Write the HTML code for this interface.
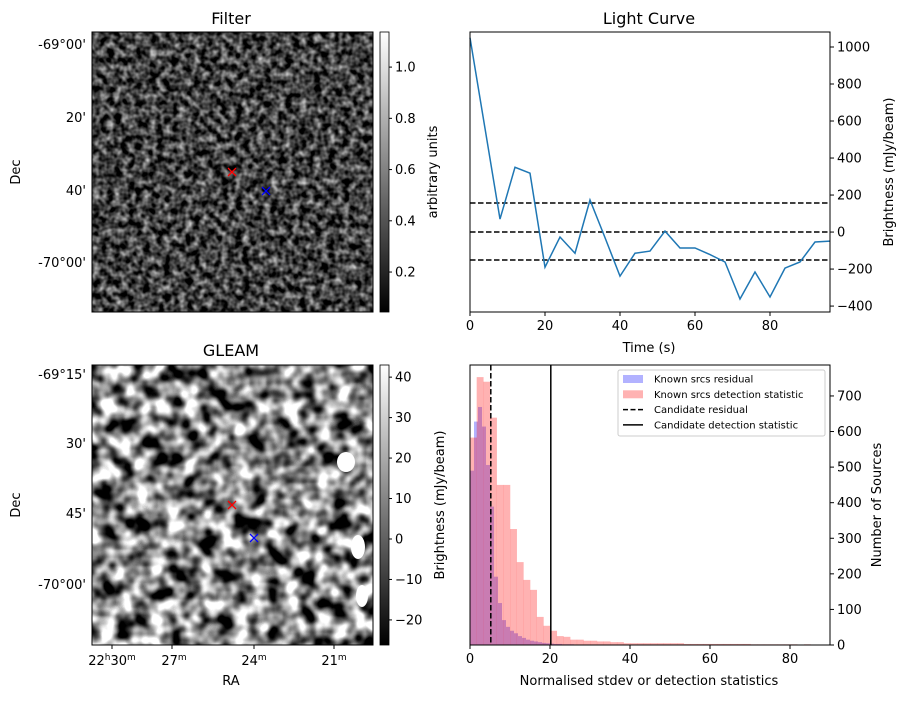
<!DOCTYPE html>
<html><head><meta charset="utf-8">
<style>
body{margin:0;background:#fff;}
svg text{font-family:"DejaVu Sans","Liberation Sans",sans-serif;fill:#000;}
</style></head>
<body>
<svg id="fig" width="907" height="699" viewBox="0 0 907 699" xmlns="http://www.w3.org/2000/svg">
<defs>
<filter id="nFine" x="0" y="0" width="100%" height="100%" color-interpolation-filters="sRGB">
  <feTurbulence type="fractalNoise" baseFrequency="0.14" numOctaves="2" seed="3"/>
  <feColorMatrix type="matrix" values="1 0 0 0 0  1 0 0 0 0  1 0 0 0 0  0 0 0 0 1"/>
  <feComponentTransfer><feFuncR type="linear" slope="1.35" intercept="-0.42"/><feFuncG type="linear" slope="1.35" intercept="-0.42"/><feFuncB type="linear" slope="1.35" intercept="-0.42"/></feComponentTransfer>
</filter>
<filter id="nCoarse" x="0" y="0" width="100%" height="100%" color-interpolation-filters="sRGB">
  <feTurbulence type="fractalNoise" baseFrequency="0.06" numOctaves="2" seed="7"/>
  <feColorMatrix type="matrix" values="1 0 0 0 0  1 0 0 0 0  1 0 0 0 0  0 0 0 0 1"/>
  <feComponentTransfer><feFuncR type="linear" slope="2.6" intercept="-0.78"/><feFuncG type="linear" slope="2.6" intercept="-0.78"/><feFuncB type="linear" slope="2.6" intercept="-0.78"/></feComponentTransfer>
</filter>
<linearGradient id="gray" x1="0" y1="1" x2="0" y2="0"><stop offset="0" stop-color="#000"/><stop offset="1" stop-color="#fff"/></linearGradient>
</defs>

<g>
<text x="231" y="24" font-size="16" text-anchor="middle">Filter</text>
<rect x="92" y="32" width="281" height="280" fill="#444"/>
<rect x="92" y="32" width="281" height="280" filter="url(#nFine)"/>
<rect x="92" y="32" width="281" height="280" fill="none" stroke="#000" stroke-width="1"/>
<g font-size="13" text-anchor="end">
<text x="86" y="49">-69°00'</text>
<text x="86" y="122">20'</text>
<text x="86" y="195">40'</text>
<text x="86" y="267">-70°00'</text>
</g>
<text transform="translate(20,172) rotate(-90)" font-size="13" text-anchor="middle">Dec</text>
<path d="M228 168 l8 8 M236 168 l-8 8" stroke="red" stroke-width="1.3"/>
<path d="M262 187 l8 8 M270 187 l-8 8" stroke="blue" stroke-width="1.3"/>
<rect x="380" y="32" width="9" height="280" fill="url(#gray)" stroke="#000" stroke-width="0.8"/>
<g id="cb1ticks" font-size="13"></g>
<text transform="translate(437,172) rotate(-90)" font-size="13" text-anchor="middle">arbitrary units</text>
</g>

<g>
<text x="231" y="356" font-size="16" text-anchor="middle">GLEAM</text>
<rect x="92" y="365" width="281" height="280" fill="#888"/>
<rect x="92" y="365" width="281" height="280" filter="url(#nCoarse)"/>
<ellipse cx="346" cy="462" rx="9" ry="10" fill="#fff"/>
<ellipse cx="358" cy="547" rx="7" ry="12" fill="#fff"/>
<ellipse cx="362" cy="596" rx="6" ry="11" fill="#fff"/>
<rect x="92" y="365" width="281" height="280" fill="none" stroke="#000" stroke-width="1"/>
<g font-size="13" text-anchor="end">
<text x="86" y="379">-69°15'</text>
<text x="86" y="448">30'</text>
<text x="86" y="518">45'</text>
<text x="86" y="589">-70°00'</text>
</g>
<g font-size="13" text-anchor="middle">
<text x="112" y="665">22<tspan font-size="9" dy="-5">h</tspan><tspan dy="5">30</tspan><tspan font-size="9" dy="-5">m</tspan></text>
<text x="174" y="665">27<tspan font-size="9" dy="-5">m</tspan></text>
<text x="254" y="665">24<tspan font-size="9" dy="-5">m</tspan></text>
<text x="334" y="665">21<tspan font-size="9" dy="-5">m</tspan></text>
</g>
<path d="M112 645v4M172 645v4M254 645v4M334 645v4" stroke="#000"/>
<text x="231" y="685" font-size="13" text-anchor="middle">RA</text>
<text transform="translate(20,505) rotate(-90)" font-size="13" text-anchor="middle">Dec</text>
<path d="M228 501 l8 8 M236 501 l-8 8" stroke="red" stroke-width="1.3"/>
<path d="M250 534 l8 8 M258 534 l-8 8" stroke="blue" stroke-width="1.3"/>
<rect x="380" y="365" width="9" height="280" fill="url(#gray)" stroke="#000" stroke-width="0.8"/>
<g id="cb2ticks" font-size="13"></g>
<text transform="translate(444,505) rotate(-90)" font-size="13" text-anchor="middle">Brightness (mJy/beam)</text>
</g>

<g id="lc"></g>
<g id="hist"></g>
</svg>
<script>
const NS='http://www.w3.org/2000/svg';
function mk(parent,tag,attrs,txt){const e=document.createElementNS(NS,tag);for(const k in attrs)e.setAttribute(k,attrs[k]);if(txt!==undefined)e.textContent=txt;parent.appendChild(e);return e;}

const cb1Ticks=[0.2,0.4,0.6,0.8,1.0];
const cb1Labels=['0.2','0.4','0.6','0.8','1.0'];
const cb2Ticks=[-20,-10,0,10,20,30,40];
const cb2Labels=['−20','−10','0','10','20','30','40'];
(function(){
 const g1=document.getElementById('cb1ticks');
 const y1=v=>312-(v-0.044)/(1.137-0.044)*280;
 cb1Ticks.forEach((v,i)=>{const y=y1(v);
  const t=mk(g1,'line',{x1:389,x2:392,y1:y,y2:y,stroke:'#000'});
  
  
  const l=mk(g1,'text',{x:395,y:y+4.5},cb1Labels[i]);
  
  });
 const g2=document.getElementById('cb2ticks');
 const y2=v=>645-(v+26.2)/(43+26.2)*280;
 cb2Ticks.forEach((v,i)=>{const y=y2(v);
  const t=mk(g2,'line',{x1:389,x2:392,y1:y,y2:y,stroke:'#000'});
  
  
  const l=mk(g2,'text',{x:395,y:y+4.5},cb2Labels[i]);
  
  });
})();

const lcTimes=[0,4,8,12,16,20,24,28,32,36,40,44,48,52,56,60,64,68,72,76,80,84,88,92,96];
const lcFlux=[1050,560,70,350,318,-190,-27,-114,173,-30,-238,-114,-103,5,-86,-86,-122,-162,-362,-216,-351,-195,-162,-54,-49];
const lcThresholds=[157,0,-151];
const lcXTicks=[0,20,40,60,80];
const lcYTicks=[-400,-200,0,200,400,600,800,1000];

(function(){
 const g=document.getElementById('lc');
 const L=470,R=830,T=32,B=312,x0=0,x1=96,y0=-432,y1v=1081;
 const X=v=>L+(v-x0)/(x1-x0)*(R-L), Y=v=>B-(v-y0)/(y1v-y0)*(B-T);
 let t=mk(g,'text',{x:649,y:24,'font-size':16,'text-anchor':'middle'},'Light Curve');
 
 
 lcThresholds.forEach(v=>{const l=mk(g,'line',{x1:L,x2:R,y1:Y(v),y2:Y(v),stroke:'#000','stroke-width':1.5,'stroke-dasharray':'5.5,2.5'});
  
  });
 const d=lcTimes.map((tt,i)=>(i?'L':'M')+X(tt).toFixed(1)+' '+Y(lcFlux[i]).toFixed(1)).join(' ');
 const p=mk(g,'path',{d:d,fill:'none',stroke:'#1f77b4','stroke-width':1.5});
 
 
 const f=mk(g,'rect',{x:L,y:T,width:R-L,height:B-T,fill:'none',stroke:'#000'});
 
 
 lcXTicks.forEach(v=>{mk(g,'line',{x1:X(v),x2:X(v),y1:B,y2:B+4,stroke:'#000'});
  const l=mk(g,'text',{x:X(v),y:B+18,'font-size':13,'text-anchor':'middle'},String(v));
  
  });
 lcYTicks.forEach(v=>{mk(g,'line',{x1:R,x2:R+4,y1:Y(v),y2:Y(v),stroke:'#000'});
  const l=mk(g,'text',{x:R+7,y:Y(v)+4.5,'font-size':13},v<0?'−'+(-v):String(v));
  
  });
 t=mk(g,'text',{x:649,y:352,'font-size':13,'text-anchor':'middle'},'Time (s)');
 
 
 t=mk(g,'text',{transform:'translate(893,172) rotate(-90)','font-size':13,'text-anchor':'middle'},'Brightness (mJy/beam)');
 
 
})();

const redBinWidth=1.67;
const redCounts=[583,753,740,639,450,450,326,233,183,155,79,54,40,25,23,15,15,12,12,10,10,8,8,5,5,5,5,5,5,5,5,5,3,3,3,3,3,3,3,3,3,3,2,2,2,2,2,2,2,0,2,0,0];
const blueBinWidth=1.0;
const blueCounts=[490,628,669,614,506,389,192,118,70,51,40,33,25,20,15,12,10,8,6,5,4,3,3,2,2,2,1,1,1,1,1,1,1,1,1,0,0,0,0,0,0,0,0,0,1];
const candResidual=5.2;
const candDetection=20.2;
const histXTicks=[0,20,40,60,80];
const histYTicks=[0,100,200,300,400,500,600,700];

(function(){
 const g=document.getElementById('hist');
 const L=470,R=830,T=365,B=645,xm=90,ym=787;
 const X=v=>L+v/xm*(R-L), Y=v=>B-v/ym*(B-T);
 blueCounts.forEach((c,i)=>{if(!c)return;const r=mk(g,'rect',{x:X(i*blueBinWidth),y:Y(c),width:X(blueBinWidth)-L,height:B-Y(c),fill:'rgba(0,0,255,0.3)'});
  
  });
 redCounts.forEach((c,i)=>{if(!c)return;const r=mk(g,'rect',{x:X(i*redBinWidth),y:Y(c),width:X(redBinWidth)-L+0.2,height:B-Y(c),fill:'rgba(255,0,0,0.3)'});
  
  });
 let l=mk(g,'line',{x1:X(candResidual),x2:X(candResidual),y1:T,y2:B,stroke:'#000','stroke-width':1.5,'stroke-dasharray':'5.5,2.5'});
 
 
 l=mk(g,'line',{x1:X(candDetection),x2:X(candDetection),y1:T,y2:B,stroke:'#000','stroke-width':1.5});
 
 
 const f=mk(g,'rect',{x:L,y:T,width:R-L,height:B-T,fill:'none',stroke:'#000'});
 
 
 histXTicks.forEach(v=>{mk(g,'line',{x1:X(v),x2:X(v),y1:B,y2:B+4,stroke:'#000'});
  const t=mk(g,'text',{x:X(v),y:B+18,'font-size':13,'text-anchor':'middle'},String(v));
  
  });
 histYTicks.forEach(v=>{mk(g,'line',{x1:R,x2:R+4,y1:Y(v),y2:Y(v),stroke:'#000'});
  const t=mk(g,'text',{x:R+7,y:Y(v)+4.5,'font-size':13},String(v));
  
  });
 let t=mk(g,'text',{x:649,y:685,'font-size':13,'text-anchor':'middle'},'Normalised stdev or detection statistics');
 
 
 t=mk(g,'text',{transform:'translate(881,505) rotate(-90)','font-size':13,'text-anchor':'middle'},'Number of Sources');
 
 
 const lg=mk(g,'g',{});
 
 
 mk(lg,'rect',{x:618,y:370,width:207,height:66,fill:'#fff','fill-opacity':0.8,stroke:'#ccc',rx:2});
 const items=[['patch','rgba(0,0,255,0.3)','Known srcs residual'],['patch','rgba(255,0,0,0.3)','Known srcs detection statistic'],['dash','#000','Candidate residual'],['line','#000','Candidate detection statistic']];
 items.forEach((it,i)=>{const y=379+i*15.3;
  let e;
  if(it[0]==='patch')e=mk(lg,'rect',{x:623,y:y-4,width:20,height:8,fill:it[1]});
  else e=mk(lg,'line',{x1:623,x2:643,y1:y,y2:y,stroke:'#000','stroke-width':1.5,'stroke-dasharray':it[0]==='dash'?'5,2.5':'none'});
  
  
  const tx=mk(lg,'text',{x:654,y:y+3.5,'font-size':10},it[2]);
  
  });
})();
</script>
</body></html>
